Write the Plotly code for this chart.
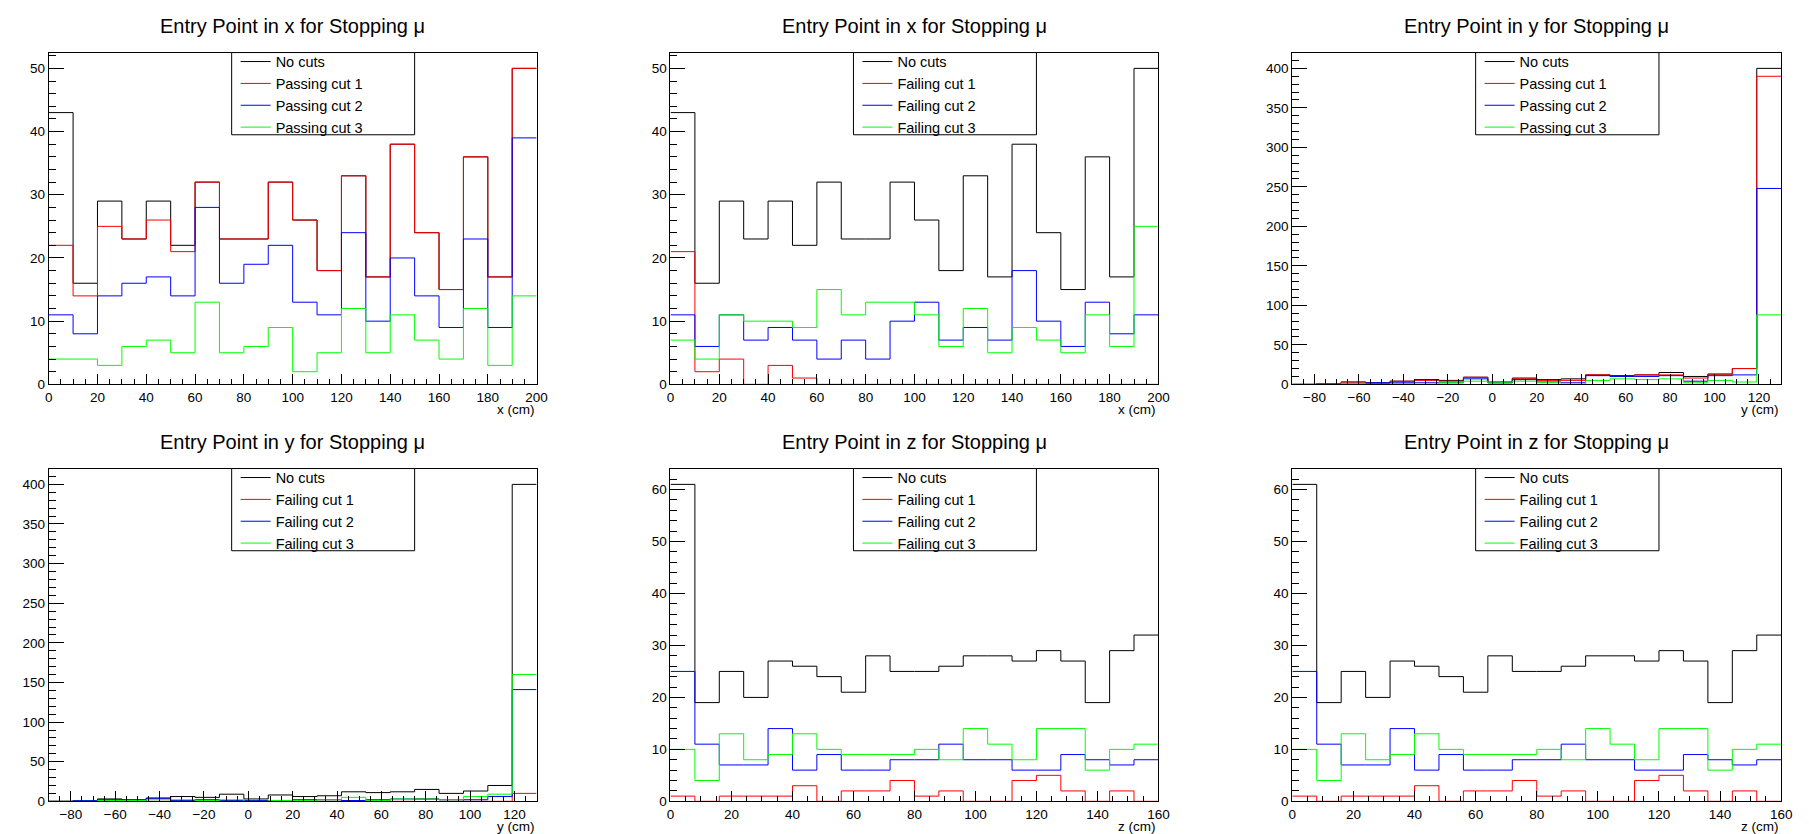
import plotly.graph_objects as go

# ---------------- data ----------------
X_EDGES = [0, 10, 20, 30, 40, 50, 60, 70, 80, 90, 100, 110, 120, 130, 140, 150, 160, 170, 180, 190, 200]
Y_EDGES = [-90, -79, -68, -57, -46, -35, -24, -13, -2, 9, 20, 31, 42, 53, 64, 75, 86, 97, 108, 119, 130]
Z_EDGES = [0, 8, 16, 24, 32, 40, 48, 56, 64, 72, 80, 88, 96, 104, 112, 120, 128, 136, 144, 152, 160]

x_nocuts = [43, 16, 29, 23, 29, 22, 32, 23, 23, 32, 26, 18, 33, 17, 38, 24, 15, 36, 17, 50]
x_pass1 = [22, 14, 25, 23, 26, 21, 32, 23, 23, 32, 26, 18, 33, 17, 38, 24, 15, 36, 17, 50]
x_pass2 = [11, 8, 14, 16, 17, 14, 28, 16, 19, 22, 13, 11, 24, 10, 20, 14, 9, 23, 9, 39]
x_pass3 = [4, 4, 3, 6, 7, 5, 13, 5, 6, 9, 2, 5, 12, 5, 11, 7, 4, 12, 3, 14]
x_fail1 = [21, 2, 4, 0, 3, 1, 0, 0, 0, 0, 0, 0, 0, 0, 0, 0, 0, 0, 0, 0]
x_fail2 = [11, 6, 11, 7, 9, 7, 4, 7, 4, 10, 13, 7, 9, 7, 18, 10, 6, 13, 8, 11]
x_fail3 = [7, 4, 11, 10, 10, 9, 15, 11, 13, 13, 11, 6, 12, 5, 9, 7, 5, 11, 6, 25]

y_nocuts = [0, 1, 3, 2, 4, 6, 5, 9, 3, 8, 6, 7, 12, 11, 12, 15, 10, 13, 20, 400]
y_pass1 = [0, 1, 3, 1, 4, 5, 4, 9, 2, 7, 5, 5, 12, 10, 12, 12, 8, 13, 20, 390]
y_pass2 = [0, 0, 1, 2, 2, 2, 2, 7, 2, 6, 3, 2, 11, 10, 10, 11, 4, 11, 12, 248]
y_pass3 = [0, 0, 1, 0, 1, 0, 2, 4, 2, 4, 2, 0, 5, 7, 6, 7, 2, 5, 3, 88]
y_fail1 = [0, 0, 0, 1, 0, 1, 1, 0, 1, 1, 1, 2, 0, 1, 0, 3, 2, 0, 0, 10]
y_fail2 = [0, 1, 2, 1, 4, 1, 2, 1, 1, 1, 2, 2, 1, 2, 3, 3, 2, 2, 6, 141]
y_fail3 = [0, 0, 1, 1, 2, 2, 1, 2, 0, 1, 1, 2, 5, 1, 3, 3, 2, 6, 9, 160]

z_nocuts = [61, 19, 25, 20, 27, 26, 24, 21, 28, 25, 25, 26, 28, 28, 27, 29, 27, 19, 29, 32]
z_fail1 = [1, 0, 1, 1, 1, 3, 0, 2, 2, 4, 1, 2, 0, 0, 4, 5, 2, 0, 2, 0]
z_fail2 = [25, 11, 7, 7, 14, 6, 9, 6, 6, 8, 8, 11, 8, 8, 6, 6, 9, 8, 7, 8]
z_fail3 = [10, 4, 13, 8, 9, 13, 10, 9, 9, 9, 10, 8, 14, 11, 8, 14, 14, 6, 10, 11]

TITLES = ["Entry Point in x for Stopping \u03bc", "Entry Point in x for Stopping \u03bc",
          "Entry Point in y for Stopping \u03bc", "Entry Point in y for Stopping \u03bc",
          "Entry Point in z for Stopping \u03bc", "Entry Point in z for Stopping \u03bc"]
AXIS_TITLES = ["x (cm)", "x (cm)", "y (cm)", "y (cm)", "z (cm)", "z (cm)"]
PASS_LABELS = ["No cuts", "Passing cut 1", "Passing cut 2", "Passing cut 3"]
FAIL_LABELS = ["No cuts", "Failing cut 1", "Failing cut 2", "Failing cut 3"]
COLORS = ["#000000", "#ff0000", "#0000ff", "#00ff00"]

PANELS = [
    dict(edges=X_EDGES, series=[x_nocuts, x_pass1, x_pass2, x_pass3], labels=PASS_LABELS,
         title=TITLES[0], atitle=AXIS_TITLES[0], yr=52.5, ydt=10, ymin=2),
    dict(edges=X_EDGES, series=[x_nocuts, x_fail1, x_fail2, x_fail3], labels=FAIL_LABELS,
         title=TITLES[1], atitle=AXIS_TITLES[1], yr=52.5, ydt=10, ymin=2),
    dict(edges=Y_EDGES, series=[y_nocuts, y_pass1, y_pass2, y_pass3], labels=PASS_LABELS,
         title=TITLES[2], atitle=AXIS_TITLES[2], yr=420, ydt=50, ymin=10),
    dict(edges=Y_EDGES, series=[y_nocuts, y_fail1, y_fail2, y_fail3], labels=FAIL_LABELS,
         title=TITLES[3], atitle=AXIS_TITLES[3], yr=420, ydt=50, ymin=10),
    dict(edges=Z_EDGES, series=[z_nocuts, z_fail1, z_fail2, z_fail3], labels=FAIL_LABELS,
         title=TITLES[4], atitle=AXIS_TITLES[4], yr=64.05, ydt=10, ymin=2),
    dict(edges=Z_EDGES, series=[z_nocuts, z_fail1, z_fail2, z_fail3], labels=FAIL_LABELS,
         title=TITLES[5], atitle=AXIS_TITLES[5], yr=64.05, ydt=10, ymin=2),
]

# ---------------- layout geometry (pixels) ----------------
W, H = 1809, 834
COL_FRAME = [(37, 529), (664, 1156), (1291, 1784)]
ROW_FRAME = [(45, 380), (465, 801)]
TITLE_Y = [18, 438]
FONT = "Liberation Sans, Arial, Helvetica, sans-serif"


def px(x):
    return x / W


def py(y):
    return 1 - y / H


fig = go.Figure()
layout = dict(width=W, height=H, margin=dict(l=0, r=0, t=0, b=0),
              paper_bgcolor="white", plot_bgcolor="white",
              font=dict(family=FONT, color="black", size=14), showlegend=True)
shapes = []
annotations = []

for i, p in enumerate(PANELS):
    col, row = i % 3, i // 3
    fx0, fx1 = COL_FRAME[col]
    fy0, fy1 = ROW_FRAME[row]
    ax = "" if i == 0 else str(i + 1)
    edges = p["edges"]
    leg = "legend" if i == 0 else "legend%d" % (i + 1)
    for vals, lab, colr in zip(p["series"], p["labels"], COLORS):
        fig.add_trace(go.Scatter(
            x=edges, y=list(vals) + [vals[-1]], mode="lines",
            line=dict(shape="hv", color=colr, width=1),
            name=lab, xaxis="x" + ax, yaxis="y" + ax, legend=leg,
            hoverinfo="skip"))
    layout["xaxis" + ax] = dict(
        domain=[px(fx0), px(fx1)], anchor="y" + ax, range=[edges[0], edges[-1]],
        showline=True, linecolor="black", linewidth=1, mirror=True,
        ticks="inside", ticklen=10, tickwidth=1, tickcolor="black",
        tick0=0, dtick=20, showgrid=False, zeroline=False,
        tickfont=dict(size=13.5, family=FONT, color="black"),
        minor=dict(dtick=5, tick0=0, ticks="inside", ticklen=5, tickcolor="black", showgrid=False))
    layout["yaxis" + ax] = dict(
        domain=[py(fy1), py(fy0)], anchor="x" + ax, range=[0, p["yr"]],
        showline=True, linecolor="black", linewidth=1, mirror=True,
        ticks="inside", ticklen=15, tickwidth=1, tickcolor="black",
        tick0=0, dtick=p["ydt"], showgrid=False, zeroline=False,
        tickfont=dict(size=13.5, family=FONT, color="black"),
        minor=dict(dtick=p["ymin"], tick0=0, ticks="inside", ticklen=7, tickcolor="black", showgrid=False))
    fw = fx1 - fx0
    lx0 = fx0 + 0.375 * fw
    lx1 = fx0 + 0.75 * fw
    # legend box
    shapes.append(dict(type="rect", xref="paper", yref="paper",
                       x0=px(lx0), x1=px(lx1), y0=py(fy0 + 83), y1=py(fy0),
                       line=dict(color="black", width=1), fillcolor="white", layer="above"))
    layout[leg] = dict(x=px(lx0 + 4), y=py(fy0 - 7), xanchor="left", yanchor="top",
                       bgcolor="rgba(0,0,0,0)", borderwidth=0, itemwidth=30,
                       font=dict(size=14.5, family=FONT, color="black"),
                       tracegroupgap=0, itemclick=False, itemdoubleclick=False)
    # pad title (centred over the frame)
    annotations.append(dict(text=p["title"], xref="paper", yref="paper",
                            x=px((fx0 + fx1) / 2), y=py(TITLE_Y[row]), xanchor="center", yanchor="middle",
                            showarrow=False, font=dict(size=20, family=FONT, color="black")))
    # axis title (right aligned)
    annotations.append(dict(text=p["atitle"], xref="paper", yref="paper",
                            x=px(fx1), y=py(fy1 + 25), xanchor="right", yanchor="middle",
                            showarrow=False, font=dict(size=13.5, family=FONT, color="black")))

layout["shapes"] = shapes
layout["annotations"] = annotations
fig.update_layout(**layout)
fig.write_html("out.html")
